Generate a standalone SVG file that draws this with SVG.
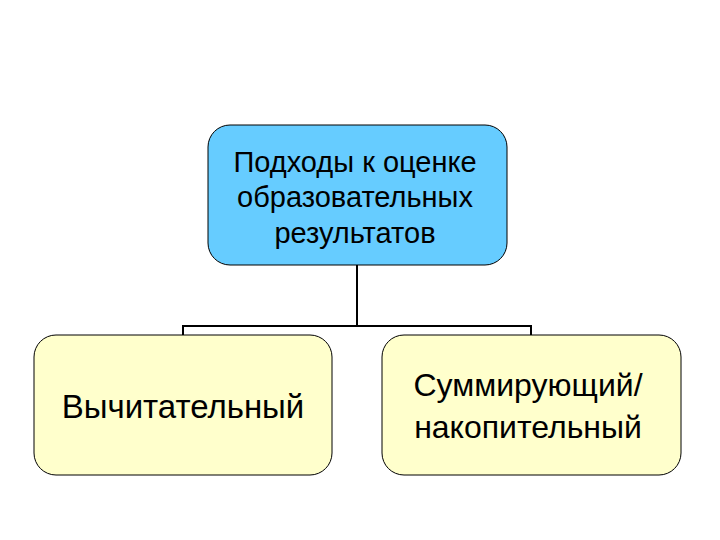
<svg xmlns="http://www.w3.org/2000/svg" width="720" height="540" viewBox="0 0 720 540">
<style>
.t{font-family:"Liberation Sans",Arial,sans-serif;fill:#000;text-anchor:middle}
.top{fill:#66CCFF;stroke:#000;stroke-width:1}
.leaf{fill:#FFFFCC;stroke:#000;stroke-width:1}
.c{fill:none;stroke:#000;stroke-width:2}
</style>
<rect width="720" height="540" fill="#fff"/>
<g id="connectors">
<path class="c" d="M357 265V326M183 335V326H531V335"/>
</g>
<g id="root">
<rect class="top" x="208" y="125" width="299" height="140" rx="22"/>
<text class="t" font-size="29"><tspan x="355" y="172">Подходы к оценке</tspan><tspan x="355" y="207">образовательных</tspan><tspan x="355" y="243">результатов</tspan></text>
</g>
<g id="left">
<rect class="leaf" x="34" y="335" width="298" height="140" rx="22"/>
<text class="t" font-size="33" x="183" y="418">Вычитательный</text>
</g>
<g id="right">
<rect class="leaf" x="382" y="335" width="299" height="140" rx="22"/>
<text class="t" font-size="32"><tspan x="528" y="396">Суммирующий/</tspan><tspan x="528" y="438">накопительный</tspan></text>
</g>
</svg>
